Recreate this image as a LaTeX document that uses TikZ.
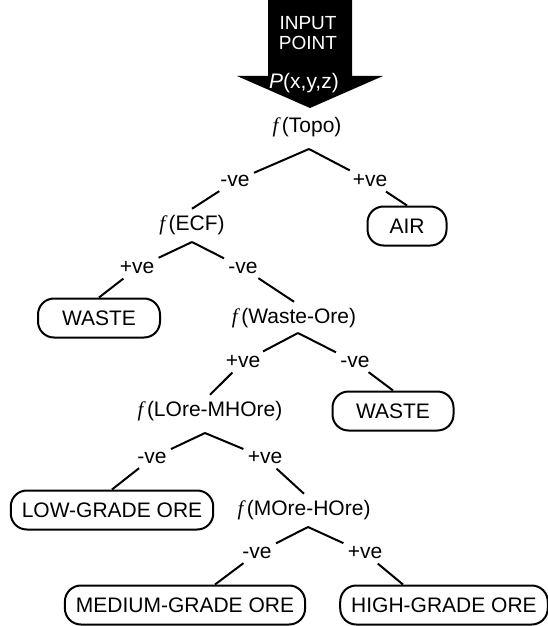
\documentclass[tikz,border=0pt]{standalone}
\usepackage{fontspec}
\setmainfont{Liberation Sans}
\newfontfamily\serifa{Liberation Serif}
\usepackage{tikz}
\newcommand{\funcion}[1]{{\serifa\itshape f}\,(#1)}
\tikzset{
  funcion/.style={
    inner sep=3pt
  },
  hoja/.style={
    rounded corners=8pt,
    draw=black,
    line width=1pt,
    minimum height=19.5pt,
    inner xsep=5.5pt,
    inner ysep=2pt
  },
  signo/.style={
    fill=white,
    inner sep=2pt
  },
  rama/.style={
    line width=1pt,
    black
  }
}
\begin{document}
\begin{tikzpicture}[x=0.5pt,y=-0.5pt,font=\fontsize{10.5}{12}\selectfont]
\useasboundingbox (0,0) rectangle (547,626);
% flecha de entrada
\fill[black] (268,0) -- (352,0) -- (352,76) -- (383,76) -- (310,108) -- (237,76) -- (268,76) -- cycle;
\node[text=white,inner sep=0pt,font=\fontsize{9.5}{11}\selectfont] (entrada) at (308,23.5) {INPUT};
\node[text=white,inner sep=0pt,font=\fontsize{9.5}{11}\selectfont] (punto-tx) at (308,42.5) {POINT};
\node[text=white,inner sep=0pt] (punto) at (304,83) {\textit{P}(x,y,z)};
% funciones
\node[funcion] (topo) at (307,127) {\funcion{Topo}};
\node[funcion] (ecf) at (192,225) {\funcion{ECF}};
\node[funcion] (wore) at (294,318) {\funcion{Waste-Ore}};
\node[funcion] (lmh) at (210,411) {\funcion{LOre-MHOre}};
\node[funcion] (mh) at (304,510) {\funcion{MOre-HOre}};
% hojas
\node[hoja,minimum width=39.5pt] (air) at (407,226) {AIR};
\node[hoja,minimum width=61pt] (wastea) at (99,318) {WASTE};
\node[hoja,minimum width=60.5pt] (wasteb) at (393,411) {WASTE};
\node[hoja] (low) at (112,510) {LOW-GRADE ORE};
\node[hoja] (medium) at (185,605) {MEDIUM-GRADE ORE};
\node[hoja] (high) at (444,605) {HIGH-GRADE ORE};
% vertices
\coordinate (topo-v) at (309,149);
\coordinate (ecf-v) at (192,242);
\coordinate (wore-v) at (298,333);
\coordinate (lmh-v) at (205,433);
\coordinate (mh-v) at (308,527);
% signos
\node[signo] (s1) at (235,181) {-ve};
\node[signo] (s2) at (370,181) {+ve};
\node[signo] (s3) at (137,268) {+ve};
\node[signo] (s4) at (243,268) {-ve};
\node[signo] (s5) at (243,362) {+ve};
\node[signo] (s6) at (355,362) {-ve};
\node[signo] (s7) at (152,458) {-ve};
\node[signo] (s8) at (265,458) {+ve};
\node[signo] (s9) at (257,553) {-ve};
\node[signo] (s10) at (365,553) {+ve};
% ramas
\draw[rama] (topo-v) -- (s1) -- (ecf.north);
\draw[rama] (topo-v) -- (s2) -- (air.north);
\draw[rama] (ecf-v) -- (s3) -- (wastea.north);
\draw[rama] (ecf-v) -- (s4) -- (wore.north);
\draw[rama] (wore-v) -- (s5) -- (lmh.north);
\draw[rama] (wore-v) -- (s6) -- (wasteb.north);
\draw[rama] (lmh-v) -- (s7) -- (low.north);
\draw[rama] (lmh-v) -- (s8) -- (mh.north);
\draw[rama] (mh-v) -- (s9) -- ([xshift=15pt]medium.north);
\draw[rama] (mh-v) -- (s10) -- ([xshift=-20.5pt]high.north);
\end{tikzpicture}
\end{document}
